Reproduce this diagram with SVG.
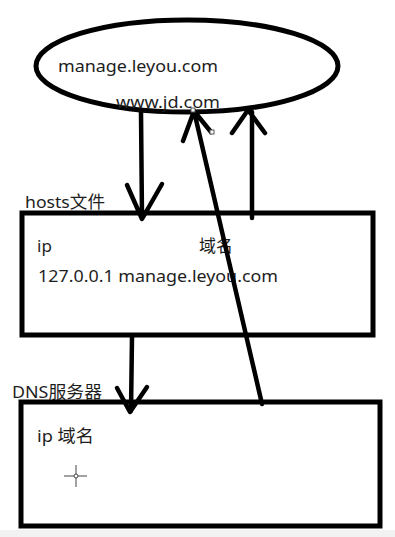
<svg xmlns="http://www.w3.org/2000/svg" width="395" height="537" viewBox="0 0 395 537">
  <style>
    .lbl { font-family: "Noto Sans", "Noto Sans CJK SC", sans-serif; font-size: 17px; fill: #1e1e1e; }
    .shape { fill: none; stroke: #000; stroke-width: 5; }
    .arrow { fill: none; stroke: #000; stroke-width: 4.5; stroke-linecap: round; stroke-linejoin: round; }
    .handle { fill: #fff; stroke: #555; stroke-width: 1; }
  </style>
  <rect x="0" y="0" width="395" height="537" fill="#fff"/>
  <rect x="0" y="530" width="395" height="7" fill="#f2f2f2"/>

  <!-- domain cloud -->
  <g id="domains">
    <ellipse class="shape" cx="187" cy="66" rx="151" ry="46" stroke-width="4"/>
    <text class="lbl" x="58" y="72" textLength="160" lengthAdjust="spacingAndGlyphs">manage.leyou.com</text>
    <text class="lbl" x="116" y="108" textLength="104" lengthAdjust="spacingAndGlyphs">www.jd.com</text>
  </g>

  <!-- hosts file -->
  <g id="hosts">
    <text class="lbl" x="25" y="208" textLength="80" lengthAdjust="spacingAndGlyphs">hosts文件</text>
    <rect class="shape" x="22" y="213" width="351" height="122"/>
    <text class="lbl" x="37" y="252">ip</text>
    <text class="lbl" x="199" y="252" textLength="34" lengthAdjust="spacingAndGlyphs">域名</text>
    <text class="lbl" x="38" y="282" textLength="240" lengthAdjust="spacingAndGlyphs">127.0.0.1 manage.leyou.com</text>
  </g>

  <!-- DNS server -->
  <g id="dns">
    <text class="lbl" x="12" y="398" textLength="90" lengthAdjust="spacingAndGlyphs">DNS服务器</text>
    <rect class="shape" x="21" y="402" width="359" height="124" fill="#fff"/>
    <text class="lbl" x="37" y="442" textLength="57" lengthAdjust="spacingAndGlyphs">ip 域名</text>
    <!-- pointer crosshair -->
    <g stroke="#444" stroke-width="1" fill="none">
      <line x1="64" y1="476" x2="87" y2="476"/>
      <line x1="76" y1="465" x2="76" y2="487"/>
      <circle cx="76" cy="476" r="2" fill="#fff"/>
    </g>
  </g>

  <!-- connectors -->
  <g id="connectors">
    <!-- cloud to hosts -->
    <path class="arrow" d="M141 112 L142 218 M127 185 L142 219 L162 184"/>
    <!-- hosts back to cloud -->
    <path class="arrow" d="M252 218 L252 112 M232 133 L248 110 L265 133"/>
    <!-- hosts to DNS -->
    <path class="arrow" d="M132 337 L131 411 M117 388 L130 412 L147 387"/>
    <!-- DNS back to cloud -->
    <path class="arrow" d="M262 404 L194 111 M183 141 L194 111 L211 132"/>
    <rect class="handle" x="191" y="108" width="4" height="4"/>
    <rect class="handle" x="210" y="130" width="4" height="4"/>
  </g>
</svg>
